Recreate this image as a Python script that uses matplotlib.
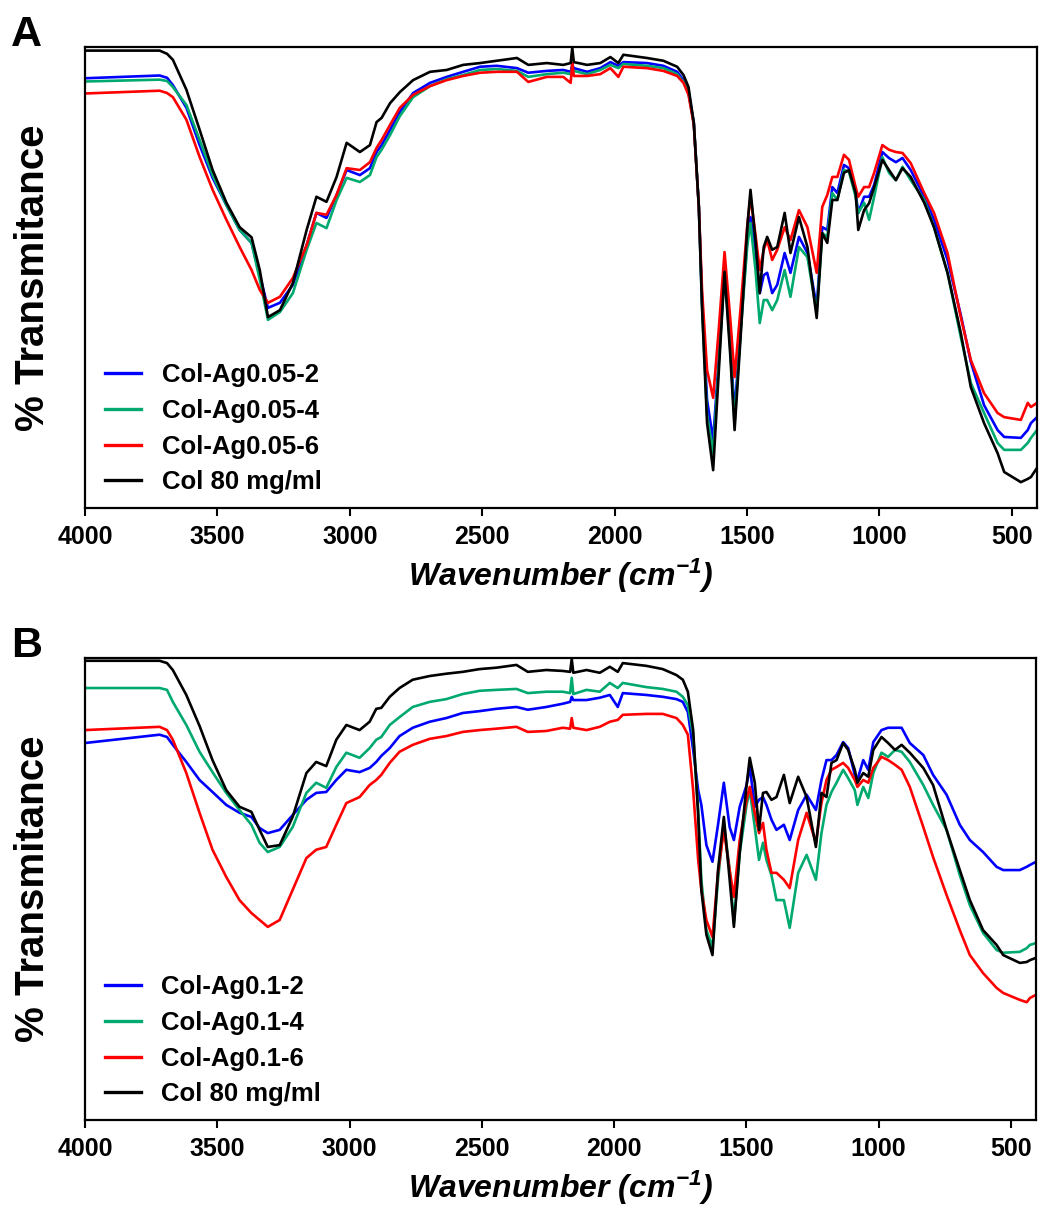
import numpy as np
import matplotlib
matplotlib.use("Agg")
import matplotlib.pyplot as plt

plt.rcParams['font.family'] = ['Liberation Sans', 'DejaVu Sans']
plt.rcParams['font.weight'] = 'bold'
plt.rcParams['mathtext.fontset'] = 'custom'
plt.rcParams['mathtext.rm'] = 'Liberation Sans:italic:bold'
plt.rcParams['mathtext.it'] = 'Liberation Sans:italic:bold'

# wavenumber grid (cm-1), shared by all curves
wavenumber = [
    4000, 3718, 3690, 3668, 3617, 3567, 3518, 3466, 3416, 3371, 3340,
    3309, 3264, 3215, 3163, 3126, 3088, 3050, 3012, 2962, 2924, 2899,
    2880, 2848, 2811, 2761, 2697, 2634, 2572, 2508, 2445, 2369, 2326,
    2256, 2194, 2166, 2160, 2154, 2104, 2054, 2016, 1986, 1967, 1878,
    1816, 1764, 1740, 1721, 1701, 1682, 1670, 1651, 1628, 1607, 1585,
    1563, 1547, 1525, 1499, 1487, 1468, 1452, 1437, 1424, 1405, 1386,
    1358, 1336, 1304, 1272, 1237, 1216, 1197, 1178, 1159, 1134, 1115,
    1090, 1080, 1058, 1039, 1020, 989, 964, 938, 913, 882, 831,
    794, 743, 693, 655, 605, 554, 529, 466, 440, 428, 405,
]

# ---- panel A (relative % transmittance) ----
a_col = [
    99.2, 99.2, 98.5, 97.2, 90.7, 82.0, 73.3, 66.2, 60.9, 58.7, 51.6,
    41.4, 42.9, 48.8, 60.3, 67.5, 66.4, 71.8, 79.2, 77.2, 78.7, 83.7,
    84.6, 87.8, 90.2, 92.8, 94.6, 95.0, 96.1, 96.5, 97.0, 97.6, 96.1,
    96.5, 96.1, 96.5, 99.8, 96.7, 96.1, 96.5, 97.8, 96.5, 98.3, 97.6,
    97.0, 95.7, 93.9, 91.3, 83.5, 65.3, 43.6, 18.4, 8.2, 29.3, 51.2,
    32.8, 16.9, 36.4, 60.9, 69.0, 58.1, 46.6, 56.6, 58.8, 56.0, 56.6,
    64.0, 55.3, 63.1, 56.6, 41.2, 59.6, 57.5, 66.8, 66.8, 72.7, 73.3,
    68.3, 60.3, 64.6, 66.1, 69.6, 75.5, 73.3, 71.1, 73.7, 71.8, 66.2,
    60.9, 51.0, 38.0, 26.2, 18.4, 11.9, 7.8, 5.6, 6.3, 6.7, 8.7,
]
a_ag005_2 = [
    93.2, 93.8, 93.3, 91.7, 86.8, 78.7, 71.6, 65.7, 60.3, 57.5, 50.5,
    43.4, 44.5, 48.4, 57.0, 64.0, 62.9, 67.9, 73.3, 72.2, 73.7, 77.2,
    78.7, 82.0, 85.9, 90.0, 92.2, 93.5, 94.6, 95.7, 95.9, 95.4, 94.4,
    94.8, 95.0, 94.6, 96.1, 95.4, 94.6, 95.4, 96.7, 95.9, 96.7, 96.5,
    95.9, 94.6, 92.8, 90.2, 83.5, 65.3, 45.1, 23.4, 14.7, 32.1, 51.6,
    35.4, 20.6, 38.6, 58.1, 63.1, 56.0, 46.6, 50.5, 51.0, 46.6, 48.4,
    55.3, 51.0, 58.8, 55.3, 43.6, 60.9, 60.3, 69.6, 68.3, 74.4, 73.7,
    68.3, 64.0, 67.5, 67.5, 70.1, 77.2, 75.9, 75.0, 75.9, 73.3, 67.5,
    62.5, 53.8, 41.9, 31.7, 22.3, 16.9, 15.4, 15.2, 16.9, 18.4, 19.7,
]
a_ag005_4 = [
    92.5, 92.9, 92.6, 91.3, 87.4, 79.8, 72.2, 65.7, 60.3, 57.5, 49.5,
    40.8, 42.5, 46.6, 56.0, 61.8, 60.7, 66.8, 71.6, 70.7, 72.2, 76.1,
    77.7, 80.9, 85.0, 89.1, 91.5, 93.0, 93.9, 95.0, 95.2, 94.8, 93.5,
    94.1, 94.4, 94.1, 95.4, 94.8, 94.1, 95.0, 96.1, 95.4, 96.3, 95.9,
    95.4, 94.1, 92.4, 90.0, 83.5, 65.3, 44.0, 20.2, 11.9, 31.0, 51.2,
    34.3, 18.4, 37.5, 57.0, 61.8, 51.6, 40.1, 45.1, 45.1, 42.9, 45.1,
    51.6, 45.8, 56.6, 54.4, 42.3, 59.6, 58.8, 68.3, 66.8, 73.3, 72.9,
    67.5, 64.0, 66.2, 62.5, 67.5, 76.1, 72.7, 71.1, 74.0, 71.1, 66.8,
    60.9, 51.0, 37.1, 27.1, 20.6, 14.1, 12.6, 12.6, 14.1, 15.2, 16.9,
]
a_ag005_6 = [
    89.9, 90.5, 90.0, 89.1, 84.2, 76.1, 69.0, 62.5, 56.6, 51.6, 47.3,
    44.5, 45.8, 49.9, 57.0, 64.0, 63.6, 67.9, 73.7, 73.3, 75.0, 78.1,
    79.8, 83.1, 86.8, 89.6, 91.5, 92.8, 93.7, 94.4, 94.6, 94.6, 92.4,
    93.5, 93.5, 92.2, 96.5, 93.7, 93.7, 94.1, 95.4, 93.5, 95.7, 95.4,
    94.8, 93.7, 92.2, 89.6, 83.1, 65.3, 47.3, 29.9, 23.9, 38.6, 55.5,
    40.8, 28.4, 42.9, 61.4, 67.5, 59.2, 51.6, 56.0, 58.1, 53.8, 56.0,
    60.9, 58.1, 64.6, 60.9, 51.0, 65.3, 67.9, 71.8, 71.8, 76.6, 75.5,
    69.6, 67.5, 69.6, 69.6, 72.7, 78.7, 77.7, 77.2, 77.0, 74.8, 68.3,
    64.0, 55.3, 41.4, 32.1, 24.9, 20.6, 19.7, 19.1, 22.8, 21.9, 22.8,
]

# ---- panel B ----
b_col = [
    99.4, 99.4, 98.9, 97.4, 92.0, 85.3, 77.9, 71.4, 67.8, 66.7, 62.8,
    59.1, 59.5, 65.6, 75.1, 77.5, 76.6, 82.3, 85.5, 84.4, 86.2, 89.0,
    89.2, 91.6, 93.5, 95.3, 96.1, 96.6, 97.0, 97.6, 97.9, 98.5, 97.0,
    97.4, 97.2, 97.0, 99.8, 96.8, 97.4, 96.8, 98.1, 97.0, 98.9, 98.3,
    97.6, 96.3, 95.3, 92.7, 84.4, 66.0, 49.8, 40.1, 35.7, 54.1, 65.6,
    52.0, 41.8, 57.8, 72.5, 78.4, 73.0, 62.8, 70.8, 71.0, 69.3, 69.9,
    74.7, 68.6, 74.3, 69.9, 59.1, 70.8, 69.9, 77.3, 77.9, 81.6, 80.1,
    75.8, 73.0, 75.1, 74.3, 80.1, 82.9, 81.6, 80.1, 81.2, 79.5, 76.2,
    72.5, 62.8, 54.1, 47.6, 41.1, 37.9, 35.7, 34.0, 34.2, 34.6, 35.1,
]
b_ag01_2 = [
    81.6, 83.4, 82.9, 81.2, 77.5, 73.6, 71.0, 68.2, 66.5, 65.6, 63.2,
    62.1, 62.8, 66.0, 69.3, 70.8, 71.0, 73.6, 75.8, 75.3, 76.2, 77.5,
    78.8, 80.5, 83.1, 84.9, 86.2, 87.0, 88.1, 88.5, 89.0, 89.4, 88.8,
    89.4, 90.1, 90.5, 91.6, 90.9, 90.9, 91.4, 92.0, 89.4, 92.4, 92.0,
    91.6, 91.1, 90.5, 88.3, 80.1, 71.4, 68.2, 59.5, 55.9, 63.9, 73.0,
    63.4, 60.6, 67.8, 72.5, 76.4, 67.8, 69.3, 69.9, 68.2, 65.0, 62.8,
    63.9, 60.6, 67.1, 70.4, 67.1, 73.6, 77.9, 77.9, 79.0, 81.8, 80.5,
    74.7, 73.6, 77.9, 75.8, 81.8, 84.4, 84.9, 84.9, 84.9, 81.6, 79.0,
    74.7, 70.4, 63.9, 60.6, 58.0, 54.8, 54.1, 54.1, 54.8, 55.2, 55.9,
]
b_ag01_4 = [
    93.5, 93.5, 93.1, 90.5, 85.5, 79.7, 75.3, 70.8, 67.1, 63.9, 60.0,
    58.0, 59.1, 63.4, 70.8, 73.0, 71.9, 76.4, 79.5, 78.4, 80.5, 82.3,
    82.9, 85.5, 87.2, 89.4, 90.5, 91.1, 92.2, 92.9, 93.1, 93.3, 92.4,
    92.7, 92.7, 92.4, 95.7, 92.2, 93.1, 92.7, 94.6, 93.5, 94.6, 93.7,
    93.3, 92.7, 91.6, 89.8, 83.4, 67.1, 52.0, 41.1, 37.5, 52.0, 64.3,
    54.1, 42.7, 57.8, 68.2, 71.4, 63.4, 56.3, 60.0, 56.3, 53.0, 47.6,
    47.6, 41.6, 53.5, 57.4, 52.0, 62.1, 68.2, 71.0, 73.0, 75.8, 74.0,
    71.4, 68.2, 72.1, 69.7, 75.1, 79.5, 78.6, 80.1, 79.7, 77.5, 72.5,
    68.2, 62.8, 53.0, 46.5, 40.5, 36.8, 36.2, 36.4, 37.2, 37.9, 38.3,
]
b_ag01_6 = [
    84.4, 85.1, 84.4, 82.3, 75.1, 66.5, 58.5, 52.6, 47.6, 44.8, 43.3,
    41.8, 43.3, 49.8, 56.7, 58.5, 59.1, 63.9, 68.6, 69.9, 72.5, 73.6,
    74.7, 77.3, 79.7, 81.2, 82.5, 83.1, 84.0, 84.4, 84.7, 85.1, 84.0,
    84.2, 84.9, 84.7, 87.0, 84.9, 84.4, 85.1, 86.2, 86.6, 87.7, 87.9,
    87.9, 87.0, 85.5, 83.4, 71.4, 56.3, 49.8, 43.3, 39.6, 53.5, 62.8,
    54.1, 48.3, 60.6, 69.3, 72.1, 66.5, 62.1, 64.3, 58.5, 53.5, 53.5,
    52.0, 50.2, 60.6, 66.5, 60.0, 68.6, 73.6, 75.8, 76.4, 77.3, 76.2,
    73.6, 72.1, 73.6, 73.0, 76.2, 78.6, 77.9, 76.9, 75.8, 72.1, 63.4,
    56.9, 48.7, 41.1, 35.7, 31.8, 28.6, 27.5, 26.0, 25.5, 26.4, 27.1,
]

labels_a = ['Col-Ag0.05-2', 'Col-Ag0.05-4', 'Col-Ag0.05-6', 'Col 80 mg/ml']
labels_b = ['Col-Ag0.1-2', 'Col-Ag0.1-4', 'Col-Ag0.1-6', 'Col 80 mg/ml']
colors = ['#0000FF', '#00AA6E', '#FF0000', '#000000']
ticks = [4000, 3500, 3000, 2500, 2000, 1500, 1000, 500]

fig = plt.figure(figsize=(10.39, 12.06), dpi=100)
ax_a = fig.add_axes([0.0818, 0.5788, 0.9163, 0.3823])
ax_b = fig.add_axes([0.0818, 0.0713, 0.9153, 0.3831])

panels = [
    (ax_a, [a_ag005_2, a_ag005_4, a_ag005_6, a_col], labels_a, 'A'),
    (ax_b, [b_ag01_2, b_ag01_4, b_ag01_6, b_col], labels_b, 'B'),
]

for ax, series, labels, letter in panels:
    for ys, lab, c in zip(series, labels, colors):
        ax.plot(wavenumber, ys, color=c, lw=1.9, label=lab)
    ax.set_xlim(4000, 405)
    ax.set_ylim(0, 100)
    ax.set_xticks(ticks)
    ax.set_yticks([])
    ax.tick_params(axis='x', direction='out', length=6, width=1.5, pad=6,
                   labelsize=18)
    for lbl in ax.get_xticklabels():
        lbl.set_fontweight('bold')
    for sp in ax.spines.values():
        sp.set_linewidth(1.6)
    ax.set_xlabel(r'Wavenumber (cm$^{-1}$)', fontsize=23, fontweight='bold',
                  fontstyle='italic', labelpad=6)
    ax.set_ylabel('% Transmitance', fontsize=29, fontweight='bold')
    ax.yaxis.set_label_coords(-0.035, 0.5)
    leg = ax.legend(loc='lower left', bbox_to_anchor=(0.021, 0.03),
                    frameon=False, borderpad=0, borderaxespad=0,
                    handlelength=1.4, handletextpad=0.8, labelspacing=0.45,
                    prop={'weight': 'bold', 'size': 18.5})
    for h in leg.get_lines():
        h.set_linewidth(2.4)
    ax.text(-0.078, 1.07, letter, transform=ax.transAxes, fontsize=31,
            fontweight='bold', ha='left', va='top')

fig.savefig('out.png', dpi=100)
